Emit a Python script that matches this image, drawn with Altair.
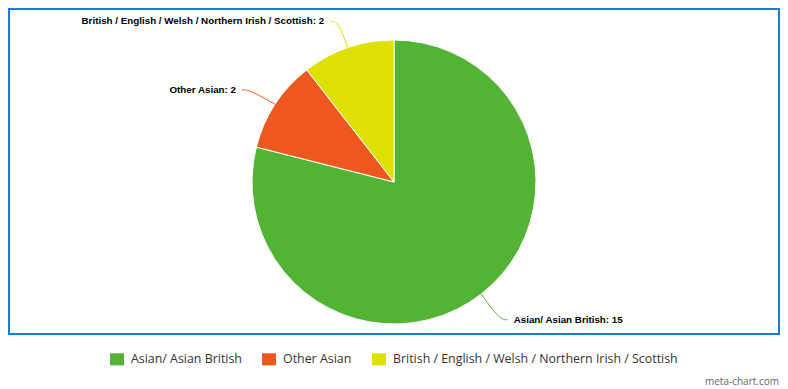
import altair as alt
import pandas as pd

categories = ["Asian/ Asian British", "Other Asian",
              "British / English / Welsh / Northern Irish / Scottish"]
values = [15, 2, 2]
colors = ["#52b334", "#ee581f", "#dde000"]
order = [0, 1, 2]

df = pd.DataFrame({"category": categories, "value": values, "order": order})
df["label"] = [f"{c}: {v}" for c, v in zip(categories, values)]

W, H = 770, 325
CX, CY = 385, 173
R_PIE = 142
R_LAB = 172

cscale = alt.Scale(domain=categories, range=colors)

base = (
    alt.Chart(df)
    .transform_joinaggregate(total="sum(value)")
    .transform_window(cum="sum(value)", sort=[{"field": "order"}])
    .transform_calculate(mid="(datum.cum - datum.value/2) / datum.total * 2 * PI")
    .transform_calculate(side="sin(datum.mid) >= 0 ? 1 : -1")
)

arc = alt.Chart(df).mark_arc(outerRadius=R_PIE, stroke="white", strokeWidth=1).encode(
    theta=alt.Theta("value:Q", stack=True),
    color=alt.Color(
        "category:N",
        scale=cscale,
        sort=categories,
        legend=alt.Legend(
            title=None,
            orient="none",
            legendX=101,
            legendY=343,
            direction="horizontal",
            symbolType="M-1,-0.86H1V0.86H-1Z",
            symbolSize=196,
            symbolStrokeWidth=0,
            symbolOpacity=1,
            labelFont="Open Sans",
            labelFontSize=12.4,
            labelColor="#333333",
            labelLimit=500,
            columnPadding=20,
            symbolOffset=0,
            labelOffset=7,
        ),
    ),
    order=alt.Order("order:Q"),
    x=alt.value(CX),
    y=alt.value(CY),
)

lines = (
    base.transform_calculate(steps="[0,1,2]")
    .transform_flatten(["steps"])
    .transform_calculate(
        rr=f"datum.steps == 0 ? {R_PIE} : {R_LAB}",
    )
    .transform_calculate(
        px=f"{CX} + datum.rr * sin(datum.mid) + (datum.steps == 2 ? datum.side * 8 : 0)",
        py=f"{CY} - datum.rr * cos(datum.mid) + (datum.steps == 0 ? 0 : 2)",
    )
    .mark_line(interpolate="basis", strokeWidth=1)
    .encode(
        x=alt.X("px:Q", scale=None, axis=None),
        y=alt.Y("py:Q", scale=None, axis=None),
        detail="category:N",
        stroke=alt.Stroke("category:N", scale=cscale, legend=None),
        order="steps:Q",
    )
)

txt = base.transform_calculate(
    lx=f"{CX} + {R_LAB} * sin(datum.mid) + datum.side * 14",
    ly=f"{CY} - {R_LAB} * cos(datum.mid) + 2",
)

text_kw = dict(font="Liberation Sans", fontWeight="bold", fontSize=9.8, color="#000000", baseline="middle")

text_right = txt.transform_filter("datum.side > 0").mark_text(align="left", **text_kw).encode(
    x=alt.X("lx:Q", scale=None, axis=None),
    y=alt.Y("ly:Q", scale=None, axis=None),
    text="label:N",
)
text_left = txt.transform_filter("datum.side < 0").mark_text(align="right", **text_kw).encode(
    x=alt.X("lx:Q", scale=None, axis=None),
    y=alt.Y("ly:Q", scale=None, axis=None),
    text="label:N",
)

chart = (
    alt.layer(arc, lines, text_right, text_left)
    .resolve_scale(x="independent", y="independent")
    .properties(
        width=W,
        height=H,
        autosize=alt.AutoSizeParams(type="none"),
        padding={"left": 1, "top": 1, "right": 1, "bottom": 54},
        title=alt.Title(
            "meta-chart.com",
            orient="bottom",
            anchor="end",
            fontSize=10,
            font="Open Sans",
            fontWeight="normal",
            color="#666666",
            offset=11,
        ),
        background="white",
    )
    .configure_view(stroke="#1f7ccc", strokeWidth=2)
)

chart.save("out.html", embed_options={"renderer": "svg", "actions": False})
